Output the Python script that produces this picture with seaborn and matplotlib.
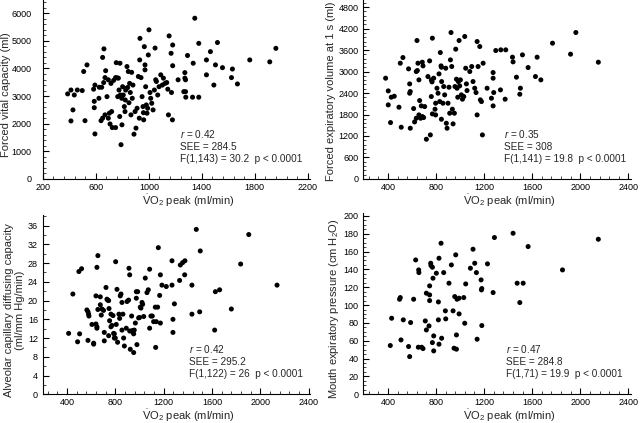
import matplotlib
matplotlib.use("Agg")
import matplotlib.pyplot as plt
from matplotlib.ticker import MultipleLocator, AutoMinorLocator
import seaborn as sns

# ---- data (VO2 peak vs lung function) ----
vo2_fvc = [387, 412, 437, 412, 427, 460, 497, 508, 518, 533, 593, 583, 588, 588, 593, 623, 626, 644, 639, 651,
           659, 669, 669, 651, 661, 674, 684, 694, 702, 694, 707, 714, 719, 724, 734, 749, 749, 754, 760, 765,
           770, 775, 780, 782, 785, 790, 795, 797, 802, 807, 815, 820, 822, 825, 830, 835, 840, 845, 850, 855,
           860, 865, 870, 875, 880, 888, 896, 903, 911, 921, 928, 931, 933, 941, 949, 956, 959, 961, 966, 971,
           971, 976, 981, 986, 991, 996, 1001, 1009, 1014, 1022, 1032, 1042, 1047, 1052, 1057, 1067, 1077, 1090,
           1102, 1110, 1122, 1135, 1143, 1148, 1153, 1168, 1180, 1180, 1171, 1178, 1221, 1272, 1272, 1277, 1264,
           1277, 1279, 1292, 1335, 1330, 1347, 1377, 1377, 1435, 1435, 1465, 1491, 1503, 1518, 1556, 1624, 1631,
           1669, 1762, 1913, 1959]
fvc = [3080, 3220, 3040, 2100, 2500, 3220, 3200, 3890, 2110, 4130, 1630, 3250, 2810, 2580, 3400, 2920, 3320, 3320,
       2110, 2200, 3490, 2320, 3670, 4400, 4710, 3920, 2980, 3590, 2380, 2200, 1990, 3460, 2440, 1860, 3570, 1860,
       3670, 4210, 3660, 2980, 3650, 3220, 2260, 4190, 3040, 1240, 2920, 1960, 3340, 3040, 2620, 2440, 2860, 3220,
       3280, 4070, 3310, 3890, 2760, 3460, 3130, 2320, 3860, 2920, 3400, 1620, 2440, 1840, 2560, 3710, 2200, 4310,
       5090, 3670, 2980, 2620, 2400, 2140, 4790, 4130, 3950, 3340, 2680, 2380, 2560, 4490, 5400, 3130, 2920, 2740,
       2500, 3220, 4740, 3590, 3530, 3040, 3340, 3770, 3400, 3650, 3460, 3490, 3250, 2320, 5180, 4550, 4850, 4100,
       3130, 2140, 3590, 3850, 3650, 3590, 3160, 3160, 2960, 4470, 4190, 2960, 5820, 2960, 4910, 4310, 3770, 4610,
       3400, 4130, 4940, 4030, 3670, 3980, 3440, 4310, 4240, 4730]

vo2_fev1 = [381, 403, 428, 453, 403, 422, 492, 503, 525, 511, 572, 581, 581, 586, 586, 614, 622, 636, 642, 636,
            650, 645, 658, 664, 678, 658, 672, 686, 692, 686, 697, 706, 720, 733, 747, 753, 761, 761, 767, 770,
            770, 781, 792, 797, 797, 808, 817, 825, 831, 836, 842, 845, 845, 847, 858, 864, 872, 881, 886, 892,
            900, 908, 914, 920, 925, 931, 936, 942, 953, 958, 964, 970, 975, 981, 986, 992, 997, 1003, 1011, 1020,
            1031, 1039, 1047, 1053, 1058, 1081, 1097, 1108, 1122, 1133, 1142, 1142, 1150, 1164, 1169, 1178, 1186,
            1192, 1225, 1297, 1339, 1380, 1275, 1275, 1280, 1261, 1275, 1336, 1375, 1436, 1441, 1519, 1469, 1502,
            1497, 1566, 1641, 1627, 1672, 1769, 1919, 1963, 2150]
fev1 = [2815, 2460, 2283, 2311, 2069, 1575, 2004, 3234, 3392, 1445, 3076, 2656, 2395, 2442, 1417, 1967, 1594, 1696,
        3868, 3001, 3234, 3029, 2768, 2190, 2041, 1789, 1696, 3262, 3159, 1743, 1715, 2022, 1109, 2861, 3299, 1230,
        2302, 2768, 2712, 3933, 1817, 2815, 1948, 2116, 1789, 2535, 2395, 2936, 2162, 3532, 3159, 3122, 1668, 2721,
        2116, 2582, 2349, 3094, 1556, 1417, 2116, 2563, 1836, 3327, 4091, 3141, 1948, 1538, 1836, 2582, 3626, 2787,
        2535, 2283, 2721, 3868, 2600, 2768, 2349, 2228, 2302, 3980, 3094, 2656, 2470, 3001, 3141, 2721, 2535, 2414,
        1789, 3840, 3141, 3700, 2209, 2162, 1230, 3234, 2535, 3588, 3607, 3607, 2973, 2815, 2414, 2255, 2041, 2488,
        2228, 3402, 3271, 3467, 2843, 2535, 2367, 3113, 3402, 2861, 2768, 3793, 3486, 4091, 3262]

vo2_dl = [414, 449, 488, 499, 505, 521, 565, 574, 579, 582, 574, 607, 621, 621, 640, 648, 656, 640, 648, 648,
          656, 676, 676, 690, 684, 703, 709, 709, 723, 731, 737, 745, 745, 748, 753, 764, 764, 772, 781, 786,
          792, 792, 800, 803, 808, 814, 819, 830, 836, 841, 847, 855, 855, 863, 869, 875, 891, 897, 910, 913,
          919, 919, 924, 935, 941, 946, 952, 952, 957, 966, 974, 974, 979, 985, 993, 1001, 1007, 1012, 1021, 1026,
          1035, 1048, 1062, 1073, 1084, 1084, 1095, 1106, 1117, 1131, 1134, 1139, 1150, 1156, 1167, 1173, 1173,
          1186, 1222, 1269, 1269, 1277, 1277, 1289, 1338, 1357, 1376, 1332, 1374, 1434, 1434, 1498, 1470, 1503,
          1628, 1663, 1622, 1760, 1837, 1904, 2138]
dl = [13.0, 21.4, 11.2, 26.2, 12.9, 26.8, 18.0, 17.6, 17.1, 16.7, 11.5, 14.9, 10.9, 10.7, 21.0, 27.1, 29.6, 15.0,
      14.4, 14.1, 18.1, 20.8, 19.1, 18.2, 16.9, 17.9, 13.2, 11.4, 22.8, 20.3, 20.1, 12.5, 20.0, 18.3, 15.7, 17.1,
      14.4, 14.7, 16.8, 13.0, 12.9, 12.0, 12.0, 28.3, 14.9, 22.4, 11.1, 17.1, 16.2, 21.0, 21.4, 19.6, 13.7, 17.1,
      12.0, 10.3, 14.1, 19.8, 20.1, 26.9, 25.5, 13.5, 9.6, 16.7, 13.6, 13.2, 12.9, 8.9, 13.7, 15.2, 20.5, 21.9,
      10.6, 21.9, 16.3, 16.4, 18.6, 18.4, 19.6, 19.2, 16.6, 24.8, 21.7, 22.3, 26.7, 14.1, 16.7, 16.7, 15.5, 18.6,
      10.0, 15.5, 18.6, 31.3, 21.1, 25.5, 15.2, 23.3, 23.0, 23.3, 28.5, 16.0, 13.2, 19.3, 27.6, 28.1, 28.5, 24.3,
      25.5, 23.3, 17.1, 17.6, 35.2, 30.6, 21.9, 22.3, 13.7, 18.2, 27.8, 34.1, 23.3]

vo2_pem = [420, 431, 497, 503, 509, 528, 572, 581, 589, 614, 631, 656, 658, 653, 681, 692, 711, 720, 720, 742,
           747, 747, 747, 756, 758, 770, 770, 775, 781, 781, 803, 820, 825, 820, 825, 842, 847, 864, 878, 881,
           908, 928, 942, 950, 956, 964, 970, 970, 975, 992, 992, 1031, 1047, 1039, 1086, 1108, 1122, 1136, 1142,
           1175, 1178, 1181, 1181, 1228, 1275, 1286, 1441, 1566, 1475, 1525, 1497, 1852, 2150]
pem = [54.6, 85.2, 106.5, 108.4, 60.9, 83.4, 53.5, 42.2, 80.4, 106.5, 150.6, 139.4, 136.4, 52.7, 52.7, 51.2, 82.2,
       113.3, 72.1, 76.6, 111.4, 105.0, 121.5, 146.9, 144.3, 142.4, 57.9, 130.1, 65.4, 48.6, 135.7, 103.5, 152.5,
       83.4, 56.1, 169.3, 62.8, 136.4, 93.5, 84.5, 124.5, 145.0, 93.5, 51.6, 109.5, 156.3, 66.5, 50.5, 106.5, 107.7,
       90.1, 108.4, 123.7, 79.6, 141.3, 162.6, 146.9, 136.4, 61.7, 128.2, 117.0, 118.5, 77.0, 146.2, 114.0, 175.7,
       180.5, 165.6, 124.5, 124.5, 102.8, 139.4, 173.8]

ylabels = ["Forced vital capacity (ml)",
           "Forced expiratory volume at 1 s (ml)",
           "Alveolar capillary diffusing capacity\n(ml/mm Hg/min)",
           "Mouth expiratory pressure (cm H$_2$O)"]
stats = [("0.42", "284.5", "F(1,143) = 30.2  p < 0.0001"),
         ("0.35", "308", "F(1,141) = 19.8  p < 0.0001"),
         ("0.42", "295.2", "F(1,122) = 26  p < 0.0001"),
         ("0.47", "284.8", "F(1,71) = 19.9  p < 0.0001")]

# ---- style ----
sns.set_theme(style="ticks")
plt.rcParams['font.family'] = ['Liberation Sans', 'DejaVu Sans']
plt.rcParams['mathtext.fontset'] = 'custom'
plt.rcParams['mathtext.rm'] = 'Liberation Sans'
plt.rcParams['mathtext.it'] = 'Liberation Sans:italic'

fig = plt.figure(figsize=(6.4, 4.23), dpi=100)

# panel boxes in figure fraction, plus axis settings
boxes = [[0.067, 0.577, 0.417, 0.423], [0.567, 0.577, 0.419, 0.423],
         [0.067, 0.068, 0.418, 0.424], [0.567, 0.068, 0.419, 0.428]]
xlims = [(200, 2215), (192, 2422), (201, 2414), (192, 2422)]
ylims = [(0, 6480), (0, 5000), (0, 38.3), (0, 203)]
ymajor = [1000, 600, 4, 20]
yminor = [5, 5, 2, 4]
ypad = [8, 3, 3.5, 3]
ylabpad = [0.5, 2, 2, 2]
ylab_y = [0.47, 0.49, 0.47, 0.47]
text_x = [0.513, 0.525, 0.545, 0.535]

panels = [(vo2_fvc, fvc), (vo2_fev1, fev1), (vo2_dl, dl), (vo2_pem, pem)]

for i, (xs, ys) in enumerate(panels):
    ax = fig.add_axes(boxes[i])
    sns.scatterplot(x=xs, y=ys, ax=ax, color='black', s=13, linewidth=0, edgecolor='none')
    ax.set_xlim(*xlims[i])
    ax.set_ylim(*ylims[i])
    if i == 0:
        ax.set_xticks([200, 600, 1000, 1400, 1800, 2200])
    else:
        ax.set_xticks([400, 800, 1200, 1600, 2000, 2400])
    ax.xaxis.set_minor_locator(AutoMinorLocator(5))
    ax.yaxis.set_major_locator(MultipleLocator(ymajor[i]))
    ax.yaxis.set_minor_locator(AutoMinorLocator(yminor[i]))
    sns.despine(ax=ax)
    for s in ['left', 'bottom']:
        ax.spines[s].set_linewidth(0.8)
        ax.spines[s].set_color('black')
    ax.tick_params(which='major', direction='in', length=4, width=0.8, labelsize=6.5, colors='black')
    ax.tick_params(axis='x', which='major', pad=3)
    ax.tick_params(axis='y', which='major', pad=ypad[i])
    ax.tick_params(which='minor', direction='in', length=2, width=0.6)
    ax.set_xlabel(r'$\dot{\mathrm{V}}\mathrm{O}_2$ peak (ml/min)', fontsize=8, labelpad=0.5)
    ax.xaxis.label.set_x(0.545)
    ax.set_ylabel(ylabels[i], fontsize=8, labelpad=ylabpad[i], linespacing=1.1)
    ax.yaxis.label.set_y(ylab_y[i])
    r, see, ftxt = stats[i]
    ax.text(text_x[i], 0.185, '$\\mathit{r}$ = ' + r + '\nSEE = ' + see + '\n' + ftxt,
            transform=ax.transAxes, ha='left', va='center', fontsize=7.2, linespacing=1.25)

fig.savefig('out.png', dpi=100)
